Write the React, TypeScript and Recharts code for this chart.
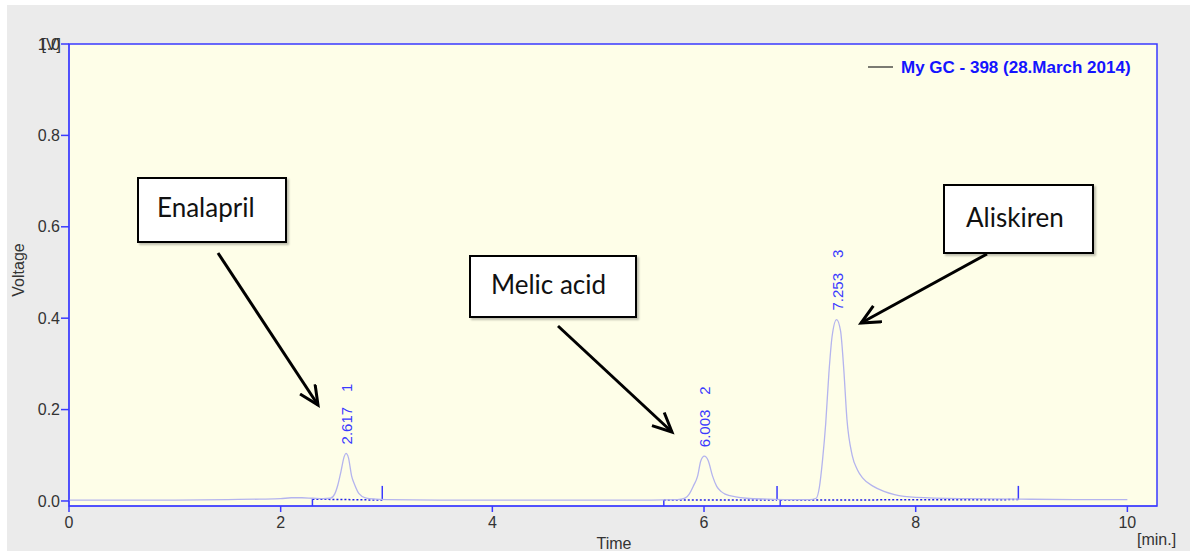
import React from 'react';
import {
  LineChart, Line, XAxis, YAxis, CartesianGrid, ReferenceArea, ReferenceLine, ReferenceDot
} from 'recharts';

// chromatogram trace
const times = [
  0, 0.5, 1.0, 1.5, 1.8, 2.0, 2.1, 2.2, 2.3, 2.4, 2.47, 2.51, 2.54, 2.57, 2.6, 2.617, 2.64, 2.67, 2.7, 2.74,
  2.8, 2.9, 3.0, 3.5, 4.0, 4.5, 5.0, 5.5, 5.75, 5.82, 5.86, 5.9, 5.94, 5.97, 6.003, 6.04, 6.08, 6.12, 6.16, 6.2,
  6.3, 6.4, 6.6, 6.8, 7.0, 7.06, 7.09, 7.12, 7.15, 7.18, 7.21, 7.253, 7.29, 7.32, 7.35, 7.4, 7.45, 7.5, 7.6, 7.7,
  7.8, 8.0, 8.5, 9.0, 9.5, 10.0,
];
const voltages = [
  0.002, 0.002, 0.002, 0.003, 0.004, 0.005, 0.007, 0.007, 0.006, 0.005, 0.006, 0.015, 0.035, 0.065, 0.097, 0.104, 0.095, 0.055, 0.035, 0.016,
  0.007, 0.004, 0.003, 0.002, 0.002, 0.002, 0.002, 0.002, 0.003, 0.006, 0.015, 0.033, 0.055, 0.088, 0.098, 0.088, 0.055, 0.032, 0.021, 0.015,
  0.009, 0.006, 0.004, 0.003, 0.003, 0.006, 0.03, 0.09, 0.17, 0.28, 0.36, 0.397, 0.372, 0.29, 0.18, 0.1, 0.068, 0.05, 0.032, 0.021,
  0.014, 0.008, 0.005, 0.004, 0.003, 0.003,
];

// detected peaks
const peakTimes = [2.617, 6.003, 7.253];
const peakHeights = [0.104, 0.098, 0.397];
const peakNumbers = ['1', '2', '3'];

// integration baselines (start / end of each peak window)
const baseStart = [2.30, 5.62, 6.72];
const baseEnd = [2.96, 6.69, 8.97];
const baseStartLevel = [0.004, 0.002, 0.002];
const baseEndLevel = [0.002, 0.002, 0.003];

const xTicks = [0, 2, 4, 6, 8, 10];
const yTicks = [0, 0.2, 0.4, 0.6, 0.8, 1.0];

const compoundNames = ['Enalapril', 'Melic acid', 'Aliskiren'];
const seriesName = 'My GC - 398 (28.March 2014)';

const data = times.map((t, i) => ({ t, v: voltages[i] }));

const X_MAX = 10.28;
const Y_MIN = -0.011;
const BLUE = '#3a3aff';
const FONT = '"Liberation Sans", Arial, sans-serif';

// annotation boxes and arrows (pixel layout on the page)
const boxes = [
  { left: 137, top: 177, width: 150, height: 66, padLeft: 20, dy: -3 },
  { left: 469, top: 255, width: 168, height: 63, padLeft: 22, dy: -3 },
  { left: 943, top: 184, width: 151, height: 70, padLeft: 23, dy: -2 },
];
const arrows = [
  [218, 253, 318, 405],
  [558, 326, 672, 432],
  [987, 254, 861, 323],
];

const PeakLabel = (props: any) => {
  const { cx, cy, time, num } = props;
  const x = cx;
  const y = cy - 9;
  return (
    <text
      x={x}
      y={y}
      transform={`rotate(-90, ${x}, ${y})`}
      textAnchor="start"
      dominantBaseline="central"
      fontSize={15}
      fill={BLUE}
      fontFamily={FONT}
    >
      <tspan>{time.toFixed(3)}</tspan>
      <tspan dx={15}>{num}</tspan>
    </text>
  );
};

export default function App() {
  return (
    <div style={{ position: 'absolute', left: 0, top: 0, width: 1192, height: 551, background: '#fff', overflow: 'hidden' }}>
      <div style={{ position: 'absolute', left: 7, top: 5, width: 1183, height: 546, background: '#ebebeb' }} />
      <div style={{ position: 'absolute', left: 0, top: 0 }}>
        <LineChart
          width={1192}
          height={551}
          data={data}
          margin={{ top: 44, right: 35, left: 0, bottom: 15 }}
          style={{ fontFamily: FONT }}
        >
          <CartesianGrid horizontal={false} vertical={false} fill="#fefee8" />
          <ReferenceArea x1={0} x2={X_MAX} y1={Y_MIN} y2={1.0} fill="none" stroke={BLUE} strokeWidth={1.5} ifOverflow="visible" />
          <XAxis
            dataKey="t"
            type="number"
            domain={[0, X_MAX]}
            ticks={xTicks}
            allowDataOverflow
            height={30}
            tickSize={6}
            tickMargin={5}
            axisLine={{ stroke: BLUE }}
            tickLine={{ stroke: BLUE, strokeWidth: 1.5 }}
            tick={{ fill: '#333', fontSize: 16 }}
          />
          <YAxis
            type="number"
            domain={[Y_MIN, 1.0]}
            ticks={yTicks}
            allowDataOverflow
            width={69}
            tickSize={8}
            tickMargin={1}
            tickFormatter={(v: number) => v.toFixed(1)}
            axisLine={{ stroke: BLUE }}
            tickLine={{ stroke: BLUE, strokeWidth: 1.5 }}
            tick={{ fill: '#333', fontSize: 16 }}
          />
          {baseStart.map((s, i) => (
            <ReferenceLine
              key={`b${i}`}
              segment={[{ x: s, y: baseStartLevel[i] }, { x: baseEnd[i], y: baseEndLevel[i] }]}
              stroke="#2020e8"
              strokeWidth={1.5}
              strokeDasharray="2 2"
            />
          ))}
          {baseStart.map((s, i) => (
            <ReferenceLine
              key={`s${i}`}
              segment={[{ x: s, y: Y_MIN }, { x: s, y: baseStartLevel[i] }]}
              stroke={BLUE}
              strokeWidth={1.5}
            />
          ))}
          {baseEnd.map((e, i) => (
            <ReferenceLine
              key={`e${i}`}
              segment={[{ x: e, y: baseEndLevel[i] }, { x: e, y: 0.033 }]}
              stroke={BLUE}
              strokeWidth={1.5}
            />
          ))}
          <Line
            dataKey="v"
            type="monotone"
            stroke="#b4b4ee"
            strokeWidth={1.3}
            dot={false}
            isAnimationActive={false}
          />
          {peakTimes.map((t, i) => (
            <ReferenceDot
              key={`p${i}`}
              x={t}
              y={peakHeights[i]}
              r={0}
              shape={(p: any) => <PeakLabel cx={p.cx} cy={p.cy} time={t} num={peakNumbers[i]} />}
            />
          ))}
        </LineChart>
      </div>

      <svg width={1192} height={551} style={{ position: 'absolute', left: 0, top: 0, pointerEvents: 'none', fontFamily: FONT }}>
        <defs>
          <marker id="ah" markerUnits="userSpaceOnUse" markerWidth={26} markerHeight={24} refX={20} refY={10} orient="auto">
            <path d="M1,1 L20,10 L1,19" fill="none" stroke="#000" strokeWidth={3} />
          </marker>
        </defs>
        <text x={61} y={44} textAnchor="end" dominantBaseline="central" fontSize={16} fill="#333">[V]</text>
        <text x={18} y={270} textAnchor="middle" dominantBaseline="central" fontSize={16} fill="#333" transform="rotate(-90, 18, 270)">Voltage</text>
        <text x={614} y={543} textAnchor="middle" dominantBaseline="central" fontSize={16} fill="#333">Time</text>
        <text x={1137} y={539} textAnchor="start" dominantBaseline="central" fontSize={16} fill="#333">[min.]</text>
        <line x1={868} y1={67} x2={893} y2={67} stroke="#222" strokeWidth={1.2} />
        <text x={901} y={67} dominantBaseline="central" fontSize={17} fontWeight="bold" fill="#1414ff">{seriesName}</text>
        {arrows.map((a, i) => (
          <line key={i} x1={a[0]} y1={a[1]} x2={a[2]} y2={a[3]} stroke="#000" strokeWidth={3} markerEnd="url(#ah)" />
        ))}
      </svg>

      {boxes.map((b, i) => (
        <div
          key={i}
          style={{
            position: 'absolute',
            left: b.left,
            top: b.top,
            width: b.width,
            height: b.height,
            boxSizing: 'border-box',
            border: '2px solid #000',
            background: '#fff',
            boxShadow: '2px 2px 2px rgba(0,0,0,0.25)',
            display: 'flex',
            alignItems: 'center',
            paddingLeft: b.padLeft - 2,
            fontFamily: 'Lato, "Open Sans", sans-serif',
            fontSize: 26,
            color: '#111',
          }}
        >
          <span style={{ position: 'relative', top: b.dy }}>{compoundNames[i]}</span>
        </div>
      ))}
    </div>
  );
}
